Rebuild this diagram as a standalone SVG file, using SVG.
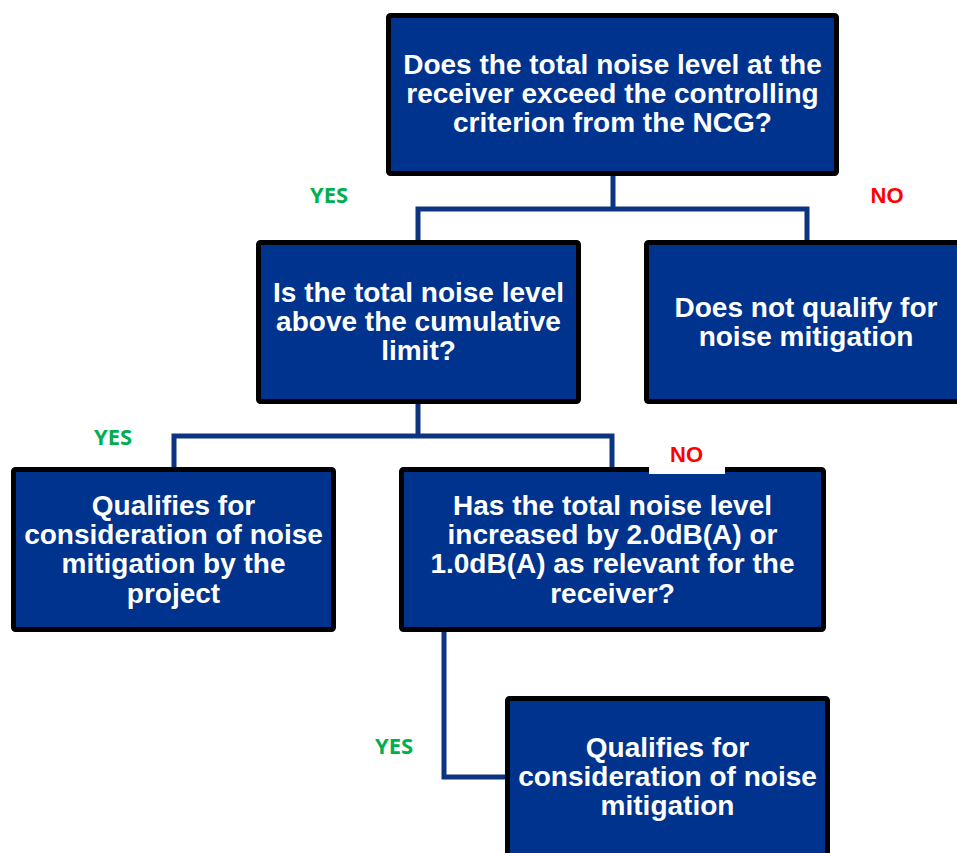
<svg xmlns="http://www.w3.org/2000/svg" width="957" height="853" viewBox="0 0 957 853">
<style>
.box{fill:#00338d;stroke:#000;stroke-width:5}
.t{font-family:"Liberation Sans",Arial,sans-serif;font-weight:bold;font-size:28px;fill:#fff;text-anchor:middle}
.con{fill:none;stroke:#0d3480;stroke-width:5}
.yes{font-family:"Open Sans","Liberation Sans",sans-serif;font-weight:bold;font-size:22px;fill:#00b050;text-anchor:middle}
.no{font-family:"Liberation Sans",Arial,sans-serif;font-weight:bold;font-size:22px;fill:#ff0000;text-anchor:middle}
</style>
<rect width="957" height="853" fill="#fff"/>
<g id="connectors">
<path class="con" d="M613,176 V209 M418,240 V209 H807 V240"/>
<path class="con" d="M418,404 V436 M174,467 V436 H612 V467"/>
<path class="con" d="M444,632 V777 H505"/>
</g>
<g id="n1">
<rect class="box" x="388.5" y="15.5" width="448" height="158" rx="2"/>
<text class="t"><tspan x="612.5" y="74">Does the total noise level at the</tspan><tspan x="612.5" y="103">receiver exceed the controlling</tspan><tspan x="612.5" y="132">criterion from the NCG?</tspan></text>
</g>
<g id="n2">
<rect class="box" x="258.5" y="242.5" width="320" height="159" rx="2"/>
<text class="t"><tspan x="418.5" y="302">Is the total noise level</tspan><tspan x="418.5" y="331">above the cumulative</tspan><tspan x="418.5" y="360">limit?</tspan></text>
</g>
<g id="n3">
<rect class="box" x="646.5" y="242.5" width="321" height="159" rx="2"/>
<text class="t"><tspan x="806" y="317">Does not qualify for</tspan><tspan x="806" y="346">noise mitigation</tspan></text>
</g>
<g id="n4">
<rect class="box" x="13.5" y="469.5" width="320" height="160" rx="2"/>
<text class="t"><tspan x="173.5" y="515">Qualifies for</tspan><tspan x="173.5" y="544">consideration of noise</tspan><tspan x="173.5" y="573">mitigation by the</tspan><tspan x="173.5" y="603">project</tspan></text>
</g>
<g id="n5">
<rect class="box" x="401.5" y="469.5" width="422" height="160" rx="2"/>
<text class="t"><tspan x="612.5" y="515">Has the total noise level</tspan><tspan x="612.5" y="544">increased by 2.0dB(A) or</tspan><tspan x="612.5" y="573">1.0dB(A) as relevant for the</tspan><tspan x="612.5" y="603">receiver?</tspan></text>
</g>
<g id="n6">
<rect class="box" x="507.5" y="698.5" width="320" height="162" rx="2"/>
<text class="t"><tspan x="667.5" y="757">Qualifies for</tspan><tspan x="667.5" y="786">consideration of noise</tspan><tspan x="667.5" y="815">mitigation</tspan></text>
</g>
<g id="labels">
<text class="yes" x="329" y="203">YES</text>
<text class="no" x="887" y="203">NO</text>
<text class="yes" x="113" y="445">YES</text>
<rect x="649" y="440" width="76" height="34" fill="#fff"/>
<text class="no" x="686.5" y="462">NO</text>
<text class="yes" x="394" y="754">YES</text>
</g>
</svg>
